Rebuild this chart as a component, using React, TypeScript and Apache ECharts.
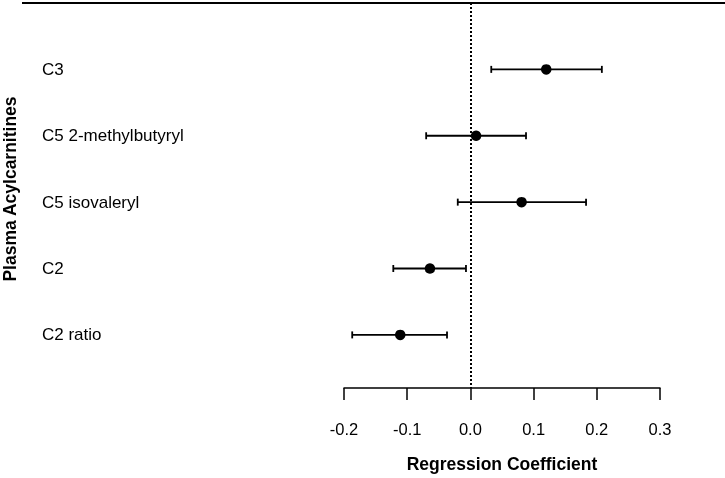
import React, { useEffect, useRef } from "react";
import * as echarts from "echarts";

const categories = ["C3", "C5 2-methylbutyryl", "C5 isovaleryl", "C2", "C2 ratio"];
const estimates = [0.12, 0.009, 0.081, -0.064, -0.111];
const lower = [0.033, -0.07, -0.02, -0.122, -0.187];
const upper = [0.208, 0.088, 0.183, -0.007, -0.037];
const xTicks = [-0.2, 0.3, 0.1]; // min, max, interval

const FONT = "'Liberation Sans', Arial, Helvetica, sans-serif";

export default function App() {
  const ref = useRef<HTMLDivElement>(null);
  useEffect(() => {
    if (!ref.current) return;
    const chart = echarts.init(ref.current, null, { renderer: "svg" });
    const ciData = categories.map((_, i) => [lower[i], upper[i], i]);
    const ptData = categories.map((_, i) => [estimates[i], i]);
    chart.setOption({
      animation: false,
      grid: { left: 344, right: 65, top: 3, bottom: 86, containLabel: false },
      xAxis: {
        type: "value",
        min: xTicks[0],
        max: xTicks[1],
        interval: xTicks[2],
        name: "Regression Coefficient",
        nameLocation: "middle",
        nameGap: 67,
        nameTextStyle: { fontFamily: FONT, fontSize: 17.5, fontWeight: "bold", color: "#000" },
        axisLine: { show: true, onZero: false, lineStyle: { color: "#000", width: 1.5 } },
        axisTick: { show: true, inside: false, length: 12, lineStyle: { color: "#000", width: 1.5 } },
        axisLabel: {
          margin: 32,
          fontFamily: FONT,
          fontSize: 16.5,
          color: "#000",
          formatter: (v: number) => v.toFixed(1),
        },
        splitLine: { show: false },
      },
      yAxis: {
        type: "value",
        inverse: true,
        min: -1,
        max: 4.8,
        interval: 1,
        axisLine: { show: false },
        axisTick: { show: false },
        splitLine: { show: false },
        axisLabel: {
          align: "left",
          margin: 302,
          fontFamily: FONT,
          fontSize: 17,
          color: "#000",
          showMaxLabel: false,
          formatter: (v: number) => (Number.isInteger(v) && categories[v]) || "",
        },
      },
      series: [
        {
          type: "custom",
          data: ciData,
          renderItem: (params: any, api: any) => {
            const y = api.value(2);
            const a = api.coord([api.value(0), y]);
            const b = api.coord([api.value(1), y]);
            const st = { stroke: "#000", lineWidth: 1.8 };
            return {
              type: "group",
              children: [
                { type: "line", shape: { x1: a[0], y1: a[1], x2: b[0], y2: b[1] }, style: st },
                { type: "line", shape: { x1: a[0], y1: a[1] - 3.5, x2: a[0], y2: a[1] + 3.5 }, style: st },
                { type: "line", shape: { x1: b[0], y1: b[1] - 3.5, x2: b[0], y2: b[1] + 3.5 }, style: st },
              ],
            };
          },
          z: 2,
        },
        {
          type: "scatter",
          data: ptData,
          symbol: "circle",
          symbolSize: 10.5,
          itemStyle: { color: "#000", opacity: 1 },
          z: 3,
          markLine: {
            silent: true,
            symbol: "none",
            label: { show: false },
            lineStyle: { color: "#000", type: [2, 2], width: 2 },
            data: [{ xAxis: 0 }],
          },
        },
      ],
      graphic: [
        {
          type: "line",
          shape: { x1: 22, y1: 3, x2: 725, y2: 3 },
          style: { stroke: "#000", lineWidth: 2 },
        },
        {
          type: "text",
          x: 9.5,
          y: 189,
          rotation: Math.PI / 2,
          style: {
            text: "Plasma Acylcarnitines",
            font: `bold 17.5px ${FONT}`,
            fill: "#000",
            align: "center",
            verticalAlign: "middle",
          },
        },
      ],
    });
    return () => chart.dispose();
  }, []);
  return <div ref={ref} style={{ position: "fixed", left: 0, top: 0, width: 725, height: 478 }} />;
}
